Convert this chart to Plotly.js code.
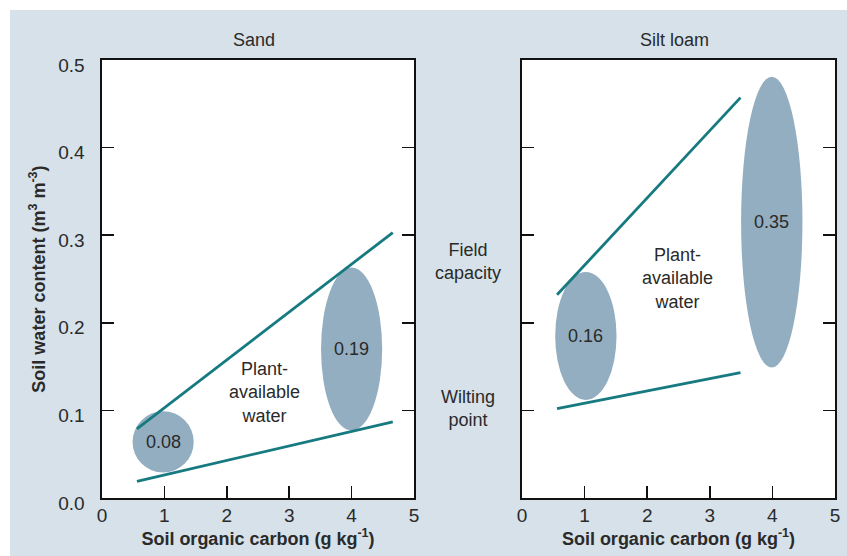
<!DOCTYPE html>
<html>
<head>
<meta charset="utf-8">
<script src="https://cdn.plot.ly/plotly-3.0.1.min.js"></script>
<style>html,body{margin:0;padding:0;background:#fff;}#chart{width:847px;height:556px;}</style>
</head>
<body>
<div id="chart"></div>
<script>
// ---- Data ----
var panels = ["Sand", "Silt loam"];
// Field capacity line (upper) endpoints
var sandFC_x = [0.56, 4.66];
var sandFC_y = [0.079, 0.303];
// Wilting point line (lower)
var sandWP_x = [0.56, 4.66];
var sandWP_y = [0.019, 0.087];
var siltFC_x = [0.56, 3.49];
var siltFC_y = [0.232, 0.457];
var siltWP_x = [0.56, 3.49];
var siltWP_y = [0.102, 0.143];
// Plant-available water ellipses: centre x, centre y, half-width, half-height, label
var sandEll_x = [0.98, 4.0];
var sandEll_y = [0.064, 0.170];
var sandEll_rx = [0.49, 0.49];
var sandEll_ry = [0.035, 0.093];
var sandEll_lbl = ["0.08", "0.19"];
var siltEll_x = [1.02, 3.99];
var siltEll_y = [0.185, 0.315];
var siltEll_rx = [0.49, 0.49];
var siltEll_ry = [0.073, 0.166];
var siltEll_lbl = ["0.16", "0.35"];
var xTicks = [0, 1, 2, 3, 4, 5];
var yTicks = [0.0, 0.1, 0.2, 0.3, 0.4, 0.5];
var yTickText = ["0.0", "0.1", "0.2", "0.3", "0.4", "0.5"];

// ---- Style ----
var lineColor = "#167a80";
var ellColor = "#93aec0";
var bgColor = "#d6e1e9";
var txtColor = "#2a2a2a";
var fontFam = "Liberation Sans, Arial, sans-serif";
var fs = 18;

var traces = [
  {x: sandFC_x, y: sandFC_y, xaxis: "x", yaxis: "y", mode: "lines", line: {color: lineColor, width: 2.8}, hoverinfo: "skip"},
  {x: sandWP_x, y: sandWP_y, xaxis: "x", yaxis: "y", mode: "lines", line: {color: lineColor, width: 2.8}, hoverinfo: "skip"},
  {x: siltFC_x, y: siltFC_y, xaxis: "x2", yaxis: "y2", mode: "lines", line: {color: lineColor, width: 2.8}, hoverinfo: "skip"},
  {x: siltWP_x, y: siltWP_y, xaxis: "x2", yaxis: "y2", mode: "lines", line: {color: lineColor, width: 2.8}, hoverinfo: "skip"}
];

// plot-area pixel geometry helpers (margins)
var W = 847, H = 556, mL = 102, mR = 12, mT = 60, mB = 58;
var pw = W - mL - mR, ph = H - mT - mB;
function px(p) { return (p - mL) / pw; }
function py(p) { return (H - mB - p) / ph; }

var shapes = [
  // white strips at top and left of the light-blue panel
  {type: "rect", xref: "paper", yref: "paper", x0: px(-5), x1: px(W + 5), y0: py(10), y1: py(-5), fillcolor: "#ffffff", line: {width: 0}, layer: "below"},
  {type: "rect", xref: "paper", yref: "paper", x0: px(-5), x1: px(10), y0: py(H + 5), y1: py(-5), fillcolor: "#ffffff", line: {width: 0}, layer: "below"}
];
function addEllipses(cx, cy, rx, ry, xr, yr) {
  for (var i = 0; i < cx.length; i++) {
    shapes.push({type: "circle", xref: xr, yref: yr,
      x0: cx[i] - rx[i], x1: cx[i] + rx[i], y0: cy[i] - ry[i], y1: cy[i] + ry[i],
      fillcolor: ellColor, line: {width: 0}, layer: "below"});
  }
}
addEllipses(sandEll_x, sandEll_y, sandEll_rx, sandEll_ry, "x", "y");
addEllipses(siltEll_x, siltEll_y, siltEll_rx, siltEll_ry, "x2", "y2");

var annotations = [];
function ann(x, y, xr, yr, text) {
  annotations.push({x: x, y: y, xref: xr, yref: yr, text: text, showarrow: false,
    xanchor: "center", yanchor: "middle", align: "center",
    font: {family: fontFam, size: fs, color: txtColor}});
}
function addLabels(cx, cy, lbl, xr, yr) {
  for (var i = 0; i < cx.length; i++) ann(cx[i], cy[i], xr, yr, lbl[i]);
}
addLabels(sandEll_x, sandEll_y, sandEll_lbl, "x", "y");
addLabels(siltEll_x, siltEll_y, siltEll_lbl, "x2", "y2");
ann(2.6, 0.121, "x", "y", "Plant-<br>available<br>water");
ann(2.48, 0.251, "x2", "y2", "Plant-<br>available<br>water");
ann(px(468), py(261), "paper", "paper", "Field<br>capacity");
ann(px(468), py(408), "paper", "paper", "Wilting<br>point");
ann(px(254), py(40.5), "paper", "paper", panels[0]);
ann(px(674), py(40.5), "paper", "paper", panels[1]);

var xTitle = {text: "<b>Soil organic carbon (g kg<sup>-1</sup>)</b>", font: {family: fontFam, size: fs, color: txtColor}, standoff: 0};
var tickFont = {family: fontFam, size: 19, color: txtColor};
var xCommon = {range: [0, 5], tickvals: xTicks, ticktext: xTicks.map(String), ticks: "inside", ticklen: 12, tickwidth: 1.5, tickcolor: "#111",
  showline: true, linecolor: "#111", linewidth: 1.6, mirror: true, showgrid: false, zeroline: false, tickfont: tickFont, title: xTitle, ticklabelstandoff: 0, fixedrange: true};
var yCommon = {range: [0, 0.5], tickvals: yTicks, ticktext: yTickText, ticks: "inside", ticklen: 12, tickwidth: 1.5, tickcolor: "#111",
  showline: true, linecolor: "#111", linewidth: 1.6, mirror: "ticks", showgrid: false, zeroline: false, tickfont: tickFont, fixedrange: true};

var layout = {
  width: W, height: H,
  margin: {l: mL, r: mR, t: mT, b: mB, pad: 0},
  paper_bgcolor: bgColor, plot_bgcolor: "#ffffff",
  showlegend: false,
  font: {family: fontFam, color: txtColor},
  xaxis: Object.assign({}, xCommon, {domain: [0, px(414)], anchor: "y"}),
  xaxis2: Object.assign({}, xCommon, {domain: [px(522), 1], anchor: "y2"}),
  yaxis: Object.assign({}, yCommon, {domain: [0, 1], anchor: "x", ticklabelstandoff: 12, ticklabelshift: 5,
    title: {text: "<b>Soil water content (m<sup>3</sup> m<sup>-3</sup>)</b>", font: {family: fontFam, size: fs, color: txtColor}, standoff: 8}}),
  yaxis2: Object.assign({}, yCommon, {domain: [0, 1], anchor: "x2", showticklabels: false}),
  shapes: shapes,
  annotations: annotations
};

Plotly.newPlot("chart", traces, layout, {displayModeBar: false, staticPlot: true});
</script>
</body>
</html>
